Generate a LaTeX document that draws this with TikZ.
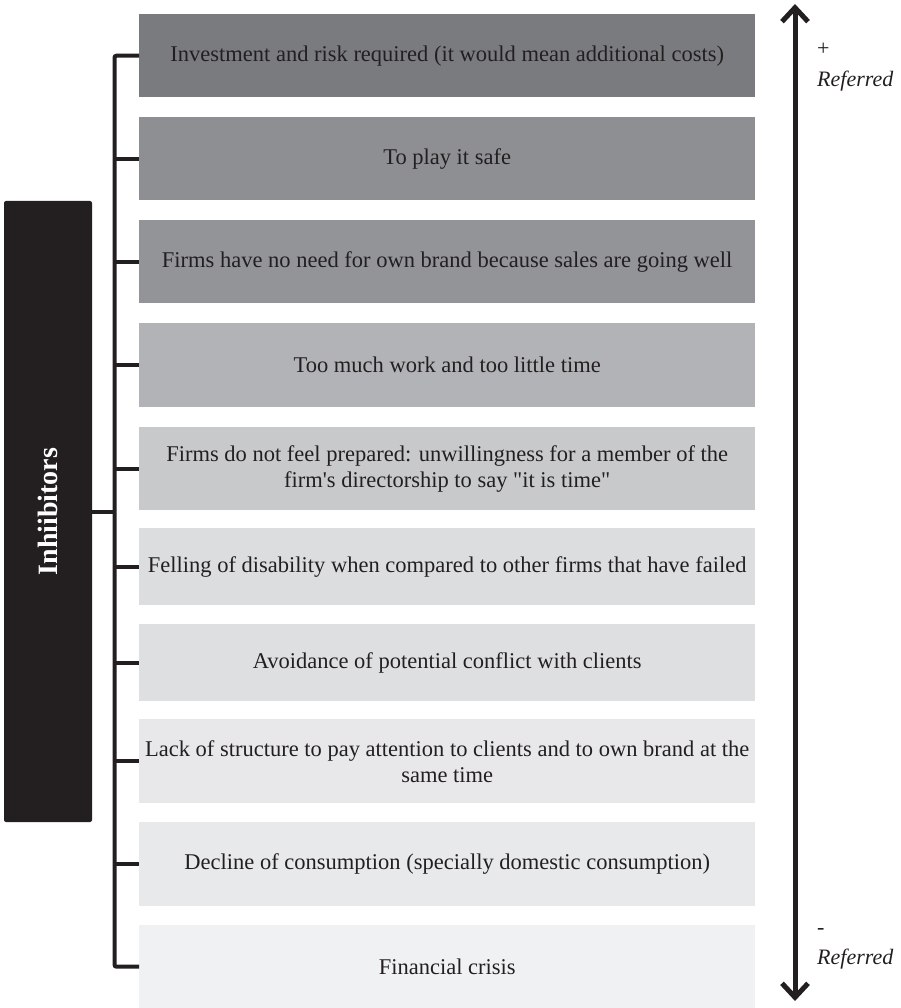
\documentclass[tikz,border=0pt]{standalone}
\usepackage{fontspec}
\setmainfont{Liberation Serif}[Ligatures=TeXOff]
\usepackage{graphicx}
\usetikzlibrary{arrows.meta}

\definecolor{ink}{HTML}{231F20}
\definecolor{g1}{HTML}{7A7B7F}
\definecolor{g2}{HTML}{8E8F93}
\definecolor{g3}{HTML}{939498}
\definecolor{g4}{HTML}{B2B3B6}
\definecolor{g5}{HTML}{C8C9CB}
\definecolor{g6}{HTML}{DCDDDF}
\definecolor{g7}{HTML}{DEDFE1}
\definecolor{g8}{HTML}{E8E8EA}
\definecolor{g9}{HTML}{E8E9EB}
\definecolor{g10}{HTML}{F0F1F2}

\tikzset{
  item/.style={anchor=north west, minimum width=616pt, inner sep=0pt,
    text=ink, align=center, font=\fontsize{22.5}{26}\selectfont},
  link/.style={draw=ink, line width=4pt},
  scale arrow/.style={draw=ink, line width=5pt,
    {Straight Barb[length=14pt,width=26pt]}-{Straight Barb[length=14pt,width=26pt]}},
  side/.style={anchor=base west, inner sep=0pt, text=ink,
    font=\fontsize{22}{26}\selectfont}
}

\begin{document}
\begin{tikzpicture}[x=1pt,y=-1pt]
\useasboundingbox (0,0) rectangle (900,1008);

% ranked list of inhibitors
\node[item, fill=g1, minimum height=83pt] (b1) at (139,14) {Investment and risk required (it would mean additional costs)};
\node[item, fill=g2, minimum height=83pt] (b2) at (139,117) {To play it safe};
\node[item, fill=g3, minimum height=83pt] (b3) at (139,220) {Firms have no need for own brand because sales are going well};
\node[item, fill=g4, minimum height=84pt] (b4) at (139,323) {Too much work and too little time};
\node[item, fill=g5, minimum height=83pt] (b5) at (139,427) {Firms do not feel prepared: unwillingness for a member of the\\firm's directorship to say "it is time"};
\node[item, fill=g6, minimum height=77pt] (b6) at (139,528) {Felling of disability when compared to other firms that have failed};
\node[item, fill=g7, minimum height=77pt] (b7) at (139,624) {Avoidance of potential conflict with clients};
\node[item, fill=g8, minimum height=84pt] (b8) at (139,719) {Lack of structure to pay attention to clients and to own brand at the\\same time};
\node[item, fill=g9, minimum height=84pt] (b9) at (139,822) {Decline of consumption (specially domestic consumption)};
\node[item, fill=g10, minimum height=83pt] (b10) at (139,925) {Financial crisis};

% category label
\node[fill=ink, rounded corners=2pt, minimum width=88pt, minimum height=621pt,
  inner sep=0pt, text=white, font=\fontsize{28}{30}\selectfont\bfseries]
  (inh) at (48,511.5) {\rotatebox{90}{Inhiibitors}};

% bracket joining the label to every item
\coordinate (spine) at (114.5,0);
\draw[link, rounded corners=2pt] (b1.west) -- (b1.west -| spine) -- (b10.west -| spine) -- (b10.west);
\foreach \b in {b2,b3,b4,b5,b6,b7,b8,b9}
  \draw[link] (\b.west -| spine) -- (\b.west);
\draw[link] (inh.east) -- (inh.east -| spine);

% frequency scale
\coordinate (top) at (795,4);
\coordinate (bottom) at (795,1001);
\draw[scale arrow] (bottom) -- (top);
\node[side] (plus) at (817,56) {+};
\node[side] (ref1) at (817,87) {\itshape Referred};
\node[side] (minus) at (817,934) {-};
\node[side] (ref2) at (817,964) {\itshape Referred};
\end{tikzpicture}
\end{document}
